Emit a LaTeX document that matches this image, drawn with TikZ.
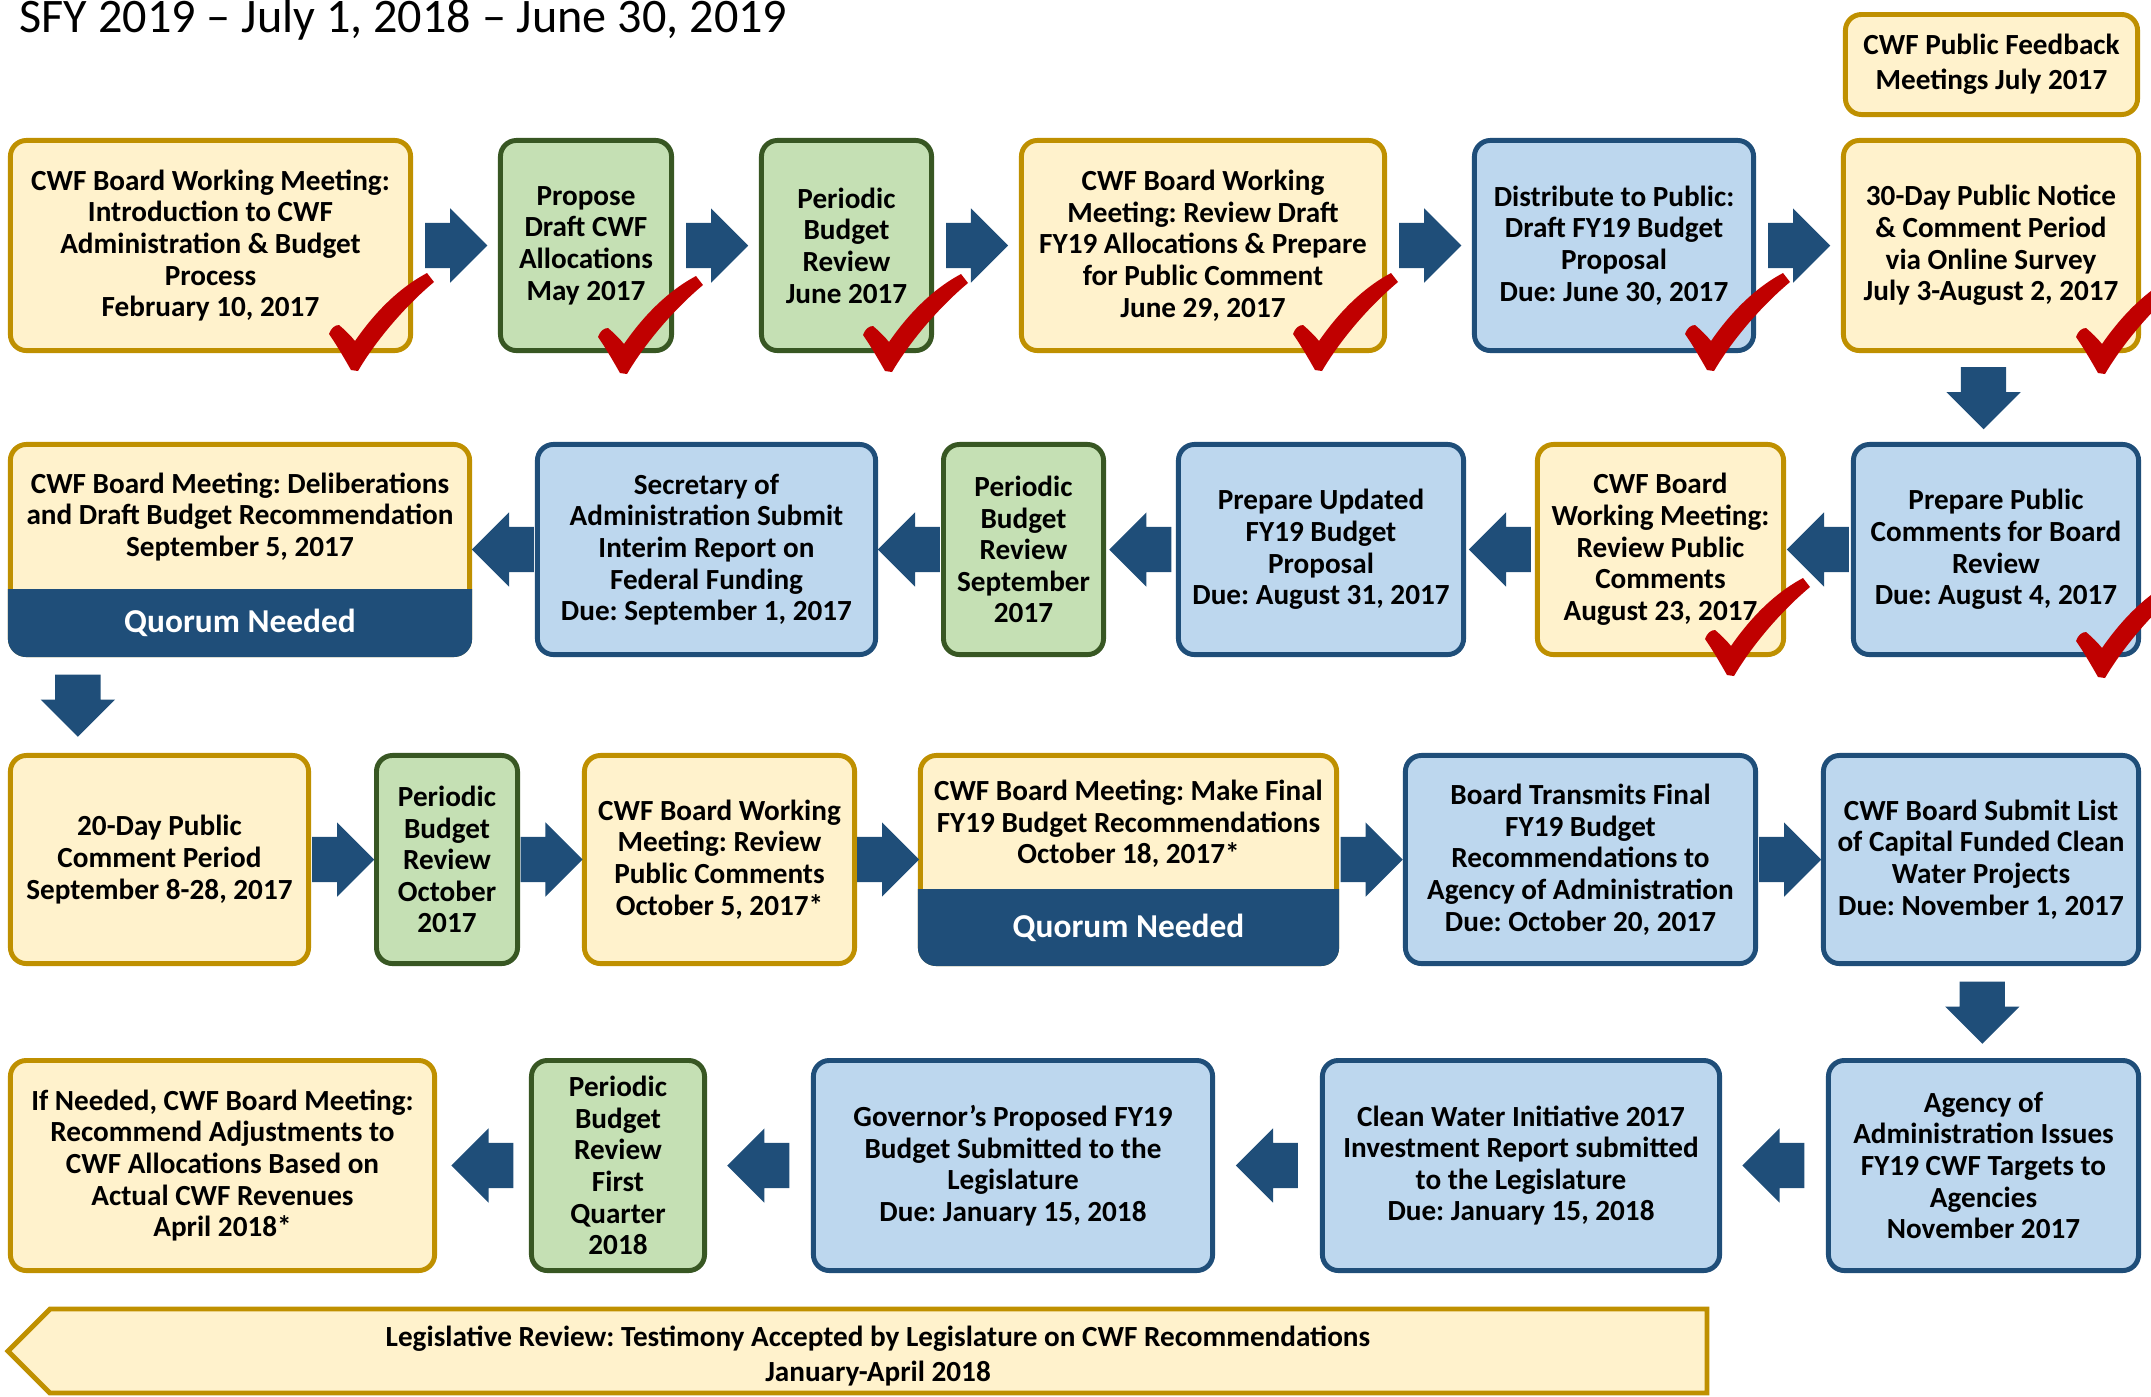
\documentclass[tikz,border=0pt]{standalone}
\usepackage{fontspec}
\setmainfont{Carlito}
\usetikzlibrary{shapes.arrows,calc}
\frenchspacing

\definecolor{yfill}{HTML}{FFF2CC}
\definecolor{ybord}{HTML}{BF9000}
\definecolor{gfill}{HTML}{C5E0B4}
\definecolor{gbord}{HTML}{385723}
\definecolor{bfill}{HTML}{BDD7EE}
\definecolor{bbord}{HTML}{1F4E79}
\definecolor{navy}{HTML}{1F4E79}
\definecolor{tickred}{HTML}{C00000}

\tikzset{
  box/.style={rounded corners=0.16cm, line width=1.4pt, align=center, inner sep=1pt,
    font=\bfseries\fontsize{8.3}{9}\selectfont},
  yel/.style={box, draw=ybord, fill=yfill},
  grn/.style={box, draw=gbord, fill=gfill},
  blu/.style={box, draw=bbord, fill=bfill},
  txt/.style={align=center, inner sep=1pt, font=\bfseries\fontsize{8.3}{9}\selectfont},
  qtext/.style={text=white, inner sep=1pt, font=\bfseries\fontsize{9.5}{11}\selectfont},
  barrow/.style={single arrow, fill=navy, minimum height=0.62cm,
    single arrow head extend=0.145cm, anchor=tail},
  rarrow/.style={barrow, inner xsep=0pt, inner ysep=0.22cm},
  larrow/.style={barrow, inner xsep=0pt, inner ysep=0.22cm, shape border rotate=180},
  darrow/.style={barrow, inner xsep=0.22cm, inner ysep=0pt, shape border rotate=270},
  tick/.pic={\fill[tickred] (0,0) .. controls (-8,-14) and (-15,-26) .. (-22,-36)
      .. controls (-20,-42) and (-16,-45) .. (-12,-45) .. controls (-6,-40) and (0,-34) .. (4,-29)
      .. controls (24,-58) and (48,-82) .. (76,-97) -- (83,-88)
      .. controls (52,-62) and (24,-28) .. (7,1) -- cycle;}
}

\begin{document}
\begin{tikzpicture}[x=0.01cm,y=-0.01cm]
  \useasboundingbox (0,0) rectangle (2151,1396);

  \node[anchor=base west, inner sep=0, font=\fontsize{13.7}{16}\selectfont] (title) at (19,32)
    {SFY 2019 – July 1, 2018 – June 30, 2019};

  % first row, left to right
  \node[yel, minimum width=2.92cm, minimum height=1.00cm, font=\bfseries\fontsize{8.3}{10}\selectfont] (fb) at (1991.5,64.5) {CWF Public Feedback\\Meetings July 2017};
  \node[yel, minimum width=4.00cm, minimum height=2.10cm] (b1) at (210.5,245.5) {CWF Board Working Meeting:\\Introduction to CWF\\Administration \& Budget\\Process\\February 10, 2017};
  \node[grn, minimum width=1.71cm, minimum height=2.10cm] (b2) at (586,245.5) {Propose\\Draft CWF\\Allocations\\May 2017};
  \node[grn, minimum width=1.70cm, minimum height=2.10cm] (b3) at (846.5,245.5) {Periodic\\Budget\\Review\\June 2017};
  \node[yel, minimum width=3.63cm, minimum height=2.10cm] (b4) at (1203,245.5) {CWF Board Working\\Meeting: Review Draft\\FY19 Allocations \& Prepare\\for Public Comment\\June 29, 2017};
  \node[blu, minimum width=2.79cm, minimum height=2.10cm] (b5) at (1614,245.5) {Distribute to Public:\\Draft FY19 Budget\\Proposal\\Due: June 30, 2017};
  \node[yel, minimum width=2.95cm, minimum height=2.10cm] (b6) at (1991,245.5) {30-Day Public Notice\\\& Comment Period\\via Online Survey\\July 3-August 2, 2017};

  % second row, right to left
  \node[yel, minimum width=4.59cm, minimum height=2.10cm] (c1) at (240,549.5) {};
  \fill[navy] (c1.west |- 0,589) [rounded corners=0.18cm] -- (c1.south west) -- (c1.south east) [sharp corners] -- (c1.east |- 0,589) -- cycle; % quorum band
  \node[txt] (c1t) at (240,517) {CWF Board Meeting: Deliberations\\and Draft Budget Recommendation\\September 5, 2017};
  \node[qtext] (q1) at (240,623) {Quorum Needed};
  \node[blu, minimum width=3.38cm, minimum height=2.10cm] (c2) at (706.5,549.5) {Secretary of\\Administration Submit\\Interim Report on\\Federal Funding\\Due: September 1, 2017};
  \node[grn, minimum width=1.60cm, minimum height=2.10cm] (c3) at (1023.5,549.5) {Periodic\\Budget\\Review\\September\\2017};
  \node[blu, minimum width=2.85cm, minimum height=2.10cm] (c4) at (1321,549.5) {Prepare Updated\\FY19 Budget\\Proposal\\Due: August 31, 2017};
  \node[yel, minimum width=2.46cm, minimum height=2.10cm] (c5) at (1660.5,549.5) {CWF Board\\Working Meeting:\\Review Public\\Comments\\August 23, 2017};
  \node[blu, minimum width=2.85cm, minimum height=2.10cm] (c6) at (1996,549.5) {Prepare Public\\Comments for Board\\Review\\Due: August 4, 2017};

  % third row, left to right
  \node[yel, minimum width=2.98cm, minimum height=2.08cm] (d1) at (159.5,859.5) {20-Day Public\\Comment Period\\September 8-28, 2017};
  \node[grn, minimum width=1.41cm, minimum height=2.08cm] (d2) at (447,859.5) {Periodic\\Budget\\Review\\October\\2017};
  \node[yel, minimum width=2.70cm, minimum height=2.08cm] (d3) at (719.5,859.5) {CWF Board Working\\Meeting: Review\\Public Comments\\October 5, 2017*};
  \node[yel, minimum width=4.16cm, minimum height=2.08cm] (d4) at (1128.5,859.5) {};
  \fill[navy] (d4.west |- 0,889) [rounded corners=0.18cm] -- (d4.south west) -- (d4.south east) [sharp corners] -- (d4.east |- 0,889) -- cycle; % quorum band
  \node[txt] (d4t) at (1128.5,824) {CWF Board Meeting: Make Final\\FY19 Budget Recommendations\\October 18, 2017*};
  \node[qtext] (q2) at (1128.5,928) {Quorum Needed};
  \node[blu, minimum width=3.50cm, minimum height=2.08cm] (d5) at (1580.5,859.5) {Board Transmits Final\\FY19 Budget\\Recommendations to\\Agency of Administration\\Due: October 20, 2017};
  \node[blu, minimum width=3.15cm, minimum height=2.08cm] (d6) at (1981,859.5) {CWF Board Submit List\\of Capital Funded Clean\\Water Projects\\Due: November 1, 2017};

  % fourth row, right to left
  \node[yel, minimum width=4.24cm, minimum height=2.10cm] (e1) at (222.5,1165.5) {If Needed, CWF Board Meeting:\\Recommend Adjustments to\\CWF Allocations Based on\\Actual CWF Revenues\\April 2018*};
  \node[grn, minimum width=1.73cm, minimum height=2.10cm] (e2) at (618,1165.5) {Periodic\\Budget\\Review\\First\\Quarter\\2018};
  \node[blu, minimum width=3.99cm, minimum height=2.10cm] (e3) at (1013,1165.5) {Governor’s Proposed FY19\\Budget Submitted to the\\Legislature\\Due: January 15, 2018};
  \node[blu, minimum width=3.97cm, minimum height=2.10cm] (e4) at (1521,1165.5) {Clean Water Initiative 2017\\Investment Report submitted\\to the Legislature\\Due: January 15, 2018};
  \node[blu, minimum width=3.10cm, minimum height=2.10cm] (e5) at (1983.5,1165.5) {Agency of\\Administration Issues\\FY19 CWF Targets to\\Agencies\\November 2017};

  % legislative review banner
  \draw[line width=1.4pt, draw=ybord, fill=yfill] (8,1351) -- (50,1309) -- (1707,1309) -- (1707,1393) -- (50,1393) -- cycle;
  \node[txt, font=\bfseries\fontsize{8.3}{9.8}\selectfont] (legis) at (878,1356) {Legislative Review: Testimony Accepted by Legislature on CWF Recommendations\\January-April 2018};

  % block arrows (placed by their tails)
  \node[rarrow] (ab1) at ($(b1.east)!.5!(b2.west)+(-31,0)$) {};
  \node[rarrow] (ab2) at ($(b2.east)!.5!(b3.west)+(-31,0)$) {};
  \node[rarrow] (ab3) at ($(b3.east)!.5!(b4.west)+(-31,0)$) {};
  \node[rarrow] (ab4) at ($(b4.east)!.5!(b5.west)+(-31,0)$) {};
  \node[rarrow] (ab5) at ($(b5.east)!.5!(b6.west)+(-31,0)$) {};
  \node[darrow] (ab6) at ($(b6.south)!.5!(c6.north)+(-10,-31)$) {};
  \node[larrow] (ac5) at ($(c6.west)!.5!(c5.east)+(31,0)$) {};
  \node[larrow] (ac4) at ($(c5.west)!.5!(c4.east)+(31,0)$) {};
  \node[larrow] (ac3) at ($(c4.west)!.5!(c3.east)+(31,0)$) {};
  \node[larrow] (ac2) at ($(c3.west)!.5!(c2.east)+(31,0)$) {};
  \node[larrow] (ac1) at ($(c2.west)!.5!(c1.east)+(31,0)$) {};
  \node[darrow] (ac0) at ($(c1.south west)!.5!(d1.north west)+(70,-31)$) {};
  \node[rarrow] (ad1) at ($(d1.east)!.5!(d2.west)+(-31,0)$) {};
  \node[rarrow] (ad2) at ($(d2.east)!.5!(d3.west)+(-31,0)$) {};
  \node[rarrow] (ad3) at ($(d3.east)!.5!(d4.west)+(-31,0)$) {};
  \node[rarrow] (ad4) at ($(d4.east)!.5!(d5.west)+(-31,0)$) {};
  \node[rarrow] (ad5) at ($(d5.east)!.5!(d6.west)+(-31,0)$) {};
  \node[darrow] (ad6) at ($(d6.south)!.5!(e5.north)+(0,-31)$) {};
  \node[larrow] (ae4) at ($(e5.west)!.5!(e4.east)+(31,0)$) {};
  \node[larrow] (ae3) at ($(e4.west)!.5!(e3.east)+(31,0)$) {};
  \node[larrow] (ae2) at ($(e3.west)!.5!(e2.east)+(31,0)$) {};
  \node[larrow] (ae1) at ($(e2.west)!.5!(e1.east)+(31,0)$) {};

  % done marks
  \pic at (351,370) {tick};
  \pic at (620,373) {tick};
  \pic at (885,371) {tick};
  \pic at (1315,370) {tick};
  \pic at (1707,370) {tick};
  \pic at (2098,373) {tick};
  \pic at (1727,675) {tick};
  \pic at (2098,677) {tick};
\end{tikzpicture}
\end{document}
